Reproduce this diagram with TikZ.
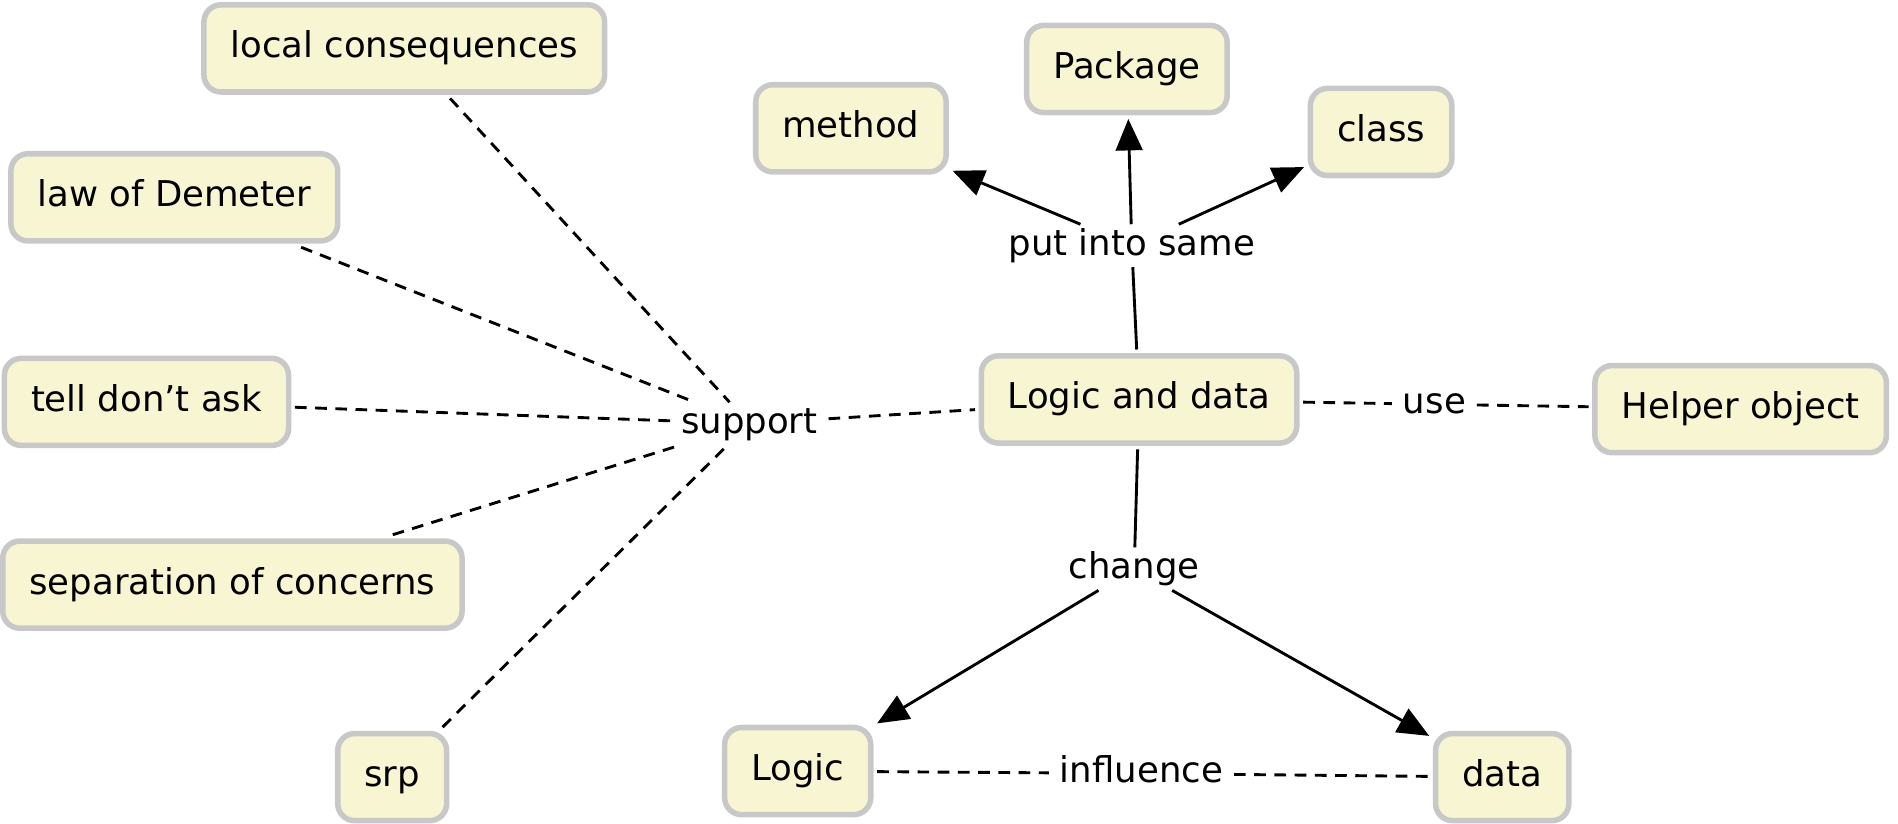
\documentclass[tikz,border=0pt]{standalone}
\usepackage{fontspec}
\setmainfont{DejaVu Sans}
\usetikzlibrary{arrows.meta}

\definecolor{boxfill}{HTML}{F8F6D2}
\definecolor{boxline}{HTML}{C8C8C8}

\tikzset{
  every node/.style={font=\fontsize{16.7}{20}\selectfont, text height=0.93em, text depth=0.05em},
  concept/.style={draw=boxline, line width=2.6pt, fill=boxfill, rounded corners=8pt,
    inner xsep=0.44cm, minimum height=1.44cm, outer sep=3pt},
  linkword/.style={inner sep=5pt},
  rel/.style={line width=1.35pt},
  weak/.style={rel, dash pattern=on 5.5pt off 4pt},
  arr/.style={rel, -{Triangle[length=0.52cm,width=0.44cm]}}
}

\begin{document}
\begin{tikzpicture}[x=0.02cm, y=-0.02cm]
            \useasboundingbox (0,0) rectangle (1568,680);
            % concepts
            \node[concept] (local) at (334,40) {local consequences};
            \node[concept] (demeter) at (144,163) {law of Demeter};
            \node[concept] (tell) at (121,332) {tell don’t ask};
            \node[concept] (concerns) at (192,483) {separation of concerns};
            \node[concept] (srp) at (324,642) {srp};
            \node[concept] (method) at (703,106) {method};
            \node[concept] (package) at (931,57) {Package};
            \node[concept] (class) at (1141,109) {class};
            \node[concept] (logicdata) at (941,330) {Logic and data};
            \node[concept] (helper) at (1438,338) {Helper object};
            \node[concept] (logic) at (659,637) {Logic};
            \node[concept] (data) at (1241,642) {data};
            % linking words
            \node[linkword] (support) at (619,350) {support};
            \node[linkword] (same) at (935,203) {put into same};
            \node[linkword] (use) at (1185,334) {use};
            \node[linkword] (change) at (937,470) {change};
            \node[linkword] (influence) at (943,639) {influence};
            % links
            \foreach \c in {local,demeter,tell,concerns,srp}
              \draw[weak] (\c) -- (support);
            \draw[weak] (support) -- (logicdata);
            \draw[rel] (logicdata) -- (same);
            \foreach \c in {method,package,class}
              \draw[arr] (same) -- (\c);
            \draw[weak] (logicdata) -- (use) -- (helper);
            \draw[rel] (logicdata) -- (change);
            \draw[arr] (change) -- (logic);
            \draw[arr] (change) -- (data);
            \draw[weak] (logic) -- (influence) -- (data);
        \end{tikzpicture}
\end{document}
